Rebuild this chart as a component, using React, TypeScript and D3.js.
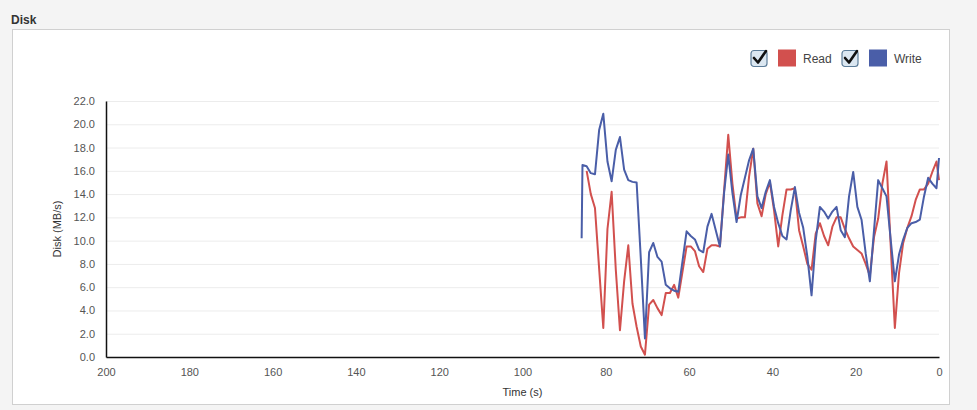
import React, { useRef, useEffect } from 'react';
import * as d3 from 'd3';

// seconds ago, shared by both series
const times = [
  85.8, 85.6, 84.6, 83.6, 82.6, 81.6, 80.6, 79.6, 78.6, 77.6, 76.6, 75.6, 74.6, 73.6, 72.6,
  71.6, 70.6, 69.6, 68.6, 67.6, 66.6, 65.6, 64.6, 63.6, 62.6, 61.6, 60.6, 59.6, 58.6, 57.6,
  56.6, 55.6, 54.6, 53.6, 52.6, 51.6, 50.6, 49.6, 48.6, 47.6, 46.6, 45.6, 44.6, 43.6, 42.6,
  41.6, 40.6, 39.6, 38.6, 37.6, 36.6, 35.6, 34.6, 33.6, 32.6, 31.6, 30.6, 29.6, 28.6, 27.6,
  26.6, 25.6, 24.6, 23.6, 22.6, 21.6, 20.6, 19.6, 18.6, 17.6, 16.6, 15.6, 14.6, 13.6, 12.6,
  11.6, 10.6, 9.6, 8.6, 7.6, 6.6, 5.6, 4.6, 3.6, 2.6, 1.6, 0.6, 0,
];

const readValues = [
  null, null, 16.0, 14.0, 12.8, 7.6, 2.5, 11.0, 14.2, 7.5, 2.3, 6.5, 9.6, 4.6, 2.6,
  0.9, 0.2, 4.5, 4.9, 4.2, 3.6, 5.5, 5.5, 6.2, 5.1, 7.3, 9.5, 9.5, 9.1, 7.8,
  7.3, 9.3, 9.6, 9.6, 9.5, 14.3, 19.1, 14.9, 11.9, 12.0, 12.0, 15.5, 17.9, 13.2, 12.1,
  14.0, 15.0, 12.6, 9.5, 12.2, 14.4, 14.4, 14.5, 10.9, 9.5, 8.0, 7.5, 10.6, 11.5, 10.4,
  9.6, 11.2, 12.0, 12.0, 11.0, 10.2, 9.5, 9.2, 8.9, 8.0, 7.0, 10.3, 11.9, 14.9, 16.8,
  9.6, 2.5, 7.2, 9.8, 11.1, 12.1, 13.5, 14.4, 14.4, 14.9, 15.9, 16.8, 15.2,
];

const writeValues = [
  10.2, 16.5, 16.4, 15.8, 15.7, 19.5, 20.9, 16.8, 15.1, 17.8, 18.9, 16.1, 15.2, 15.05, 15.0,
  8.5, 1.6, 9.0, 9.8, 8.6, 8.2, 6.2, 5.9, 5.7, 5.6, 8.2, 10.8, 10.4, 10.1, 9.2,
  9.0, 11.2, 12.3, 10.9, 9.5, 14.1, 17.4, 14.1, 11.6, 13.9, 15.4, 16.9, 17.9, 13.8, 12.8,
  14.2, 15.2, 12.9, 11.5, 10.4, 10.1, 12.6, 14.6, 12.4, 11.1, 8.6, 5.3, 10.0, 12.9, 12.5,
  11.9, 12.5, 12.9, 10.9, 10.3, 13.8, 15.9, 12.9, 11.8, 8.9, 6.5, 10.9, 15.2, 14.5, 13.8,
  10.1, 6.5, 8.8, 10.1, 11.1, 11.5, 11.6, 11.8, 13.8, 15.4, 14.9, 14.5, 17.1,
];

const xTicks = [200, 180, 160, 140, 120, 100, 80, 60, 40, 20, 0];
const yTicks = [0, 2, 4, 6, 8, 10, 12, 14, 16, 18, 20, 22];

const series = [
  { name: 'Read', color: '#d2504e', values: readValues },
  { name: 'Write', color: '#4a5ea8', values: writeValues },
];

const App = () => {
  const svgRef = useRef<SVGSVGElement>(null);

  useEffect(() => {
    const width = 977;
    const height = 410;
    const left = 106;
    const right = 939;
    const top = 101;
    const bottom = 357;
    const font = 'Arial, "Liberation Sans", sans-serif';

    const svg = d3.select(svgRef.current)
      .attr('width', width)
      .attr('height', height);
    svg.selectAll('*').remove();

    // page + panel
    svg.append('rect').attr('width', width).attr('height', height).attr('fill', '#f4f4f4');
    svg.append('text')
      .attr('x', 11).attr('y', 24)
      .style('font-family', font).style('font-size', '12px').style('font-weight', 'bold')
      .attr('fill', '#333')
      .text('Disk');
    svg.append('rect')
      .attr('x', 12.5).attr('y', 29.5).attr('width', 937).attr('height', 375)
      .attr('fill', '#fff').attr('stroke', '#d0d0d0');

    const x = d3.scaleLinear().domain([200, 0]).range([left, right]);
    const y = d3.scaleLinear().domain([0, 22]).range([bottom, top]);

    // gridlines
    svg.append('g')
      .selectAll('line')
      .data(yTicks.filter(d => d > 0))
      .enter()
      .append('line')
      .attr('x1', left).attr('x2', right)
      .attr('y1', d => y(d) + 0.5).attr('y2', d => y(d) + 0.5)
      .attr('stroke', '#ececec');

    // axes
    const yAxis = svg.append('g')
      .attr('transform', `translate(${left},0)`)
      .call(d3.axisLeft(y).tickValues(yTicks).tickFormat(d3.format('.1f')).tickSize(0).tickPadding(11));
    const xAxis = svg.append('g')
      .attr('transform', `translate(0,${bottom})`)
      .call(d3.axisBottom(x).tickValues(xTicks).tickSize(0).tickPadding(11));

    [yAxis, xAxis].forEach(g => {
      g.select('.domain').attr('stroke', '#111').attr('stroke-width', 1.5);
      g.selectAll('text')
        .style('font-family', font).style('font-size', '11px')
        .attr('fill', '#555');
    });

    svg.append('text')
      .attr('x', (left + right) / 2).attr('y', 396)
      .attr('text-anchor', 'middle')
      .style('font-family', font).style('font-size', '11px')
      .attr('fill', '#333')
      .text('Time (s)');
    svg.append('text')
      .attr('transform', `translate(61,${(top + bottom) / 2}) rotate(-90)`)
      .attr('text-anchor', 'middle')
      .style('font-family', font).style('font-size', '11px')
      .attr('fill', '#333')
      .text('Disk (MB/s)');

    // lines
    const line = d3.line<number>()
      .defined((d, i) => d != null)
      .x((d, i) => x(times[i]))
      .y(d => y(d));

    series.forEach(s => {
      svg.append('path')
        .datum(s.values as number[])
        .attr('d', line)
        .attr('fill', 'none')
        .attr('stroke', s.color)
        .attr('stroke-width', 2)
        .attr('stroke-linejoin', 'round');
    });

    // legend
    const legend = svg.append('g').attr('transform', 'translate(750,49)');
    const offsets = [0, 91];
    series.forEach((s, i) => {
      const g = legend.append('g').attr('transform', `translate(${offsets[i]},0)`);
      g.append('rect')
        .attr('x', 1).attr('y', 1.5).attr('width', 16).attr('height', 16).attr('rx', 3)
        .attr('fill', '#dbe7f1').attr('stroke', '#5d7d99').attr('stroke-width', 1.2);
      g.append('path')
        .attr('d', 'M4,9 L8,13.5 L16,2')
        .attr('fill', 'none').attr('stroke', '#111').attr('stroke-width', 2.6)
        .attr('stroke-linecap', 'round').attr('stroke-linejoin', 'round');
      g.append('rect')
        .attr('x', 28).attr('y', 0.5).attr('width', 18).attr('height', 17)
        .attr('fill', s.color);
      g.append('text')
        .attr('x', 53).attr('y', 13.5)
        .style('font-family', font).style('font-size', '12px')
        .attr('fill', '#444')
        .text(s.name);
    });
  }, []);

  return <svg ref={svgRef} style={{ position: 'absolute', left: 0, top: 0 }}></svg>;
};

export default App;
